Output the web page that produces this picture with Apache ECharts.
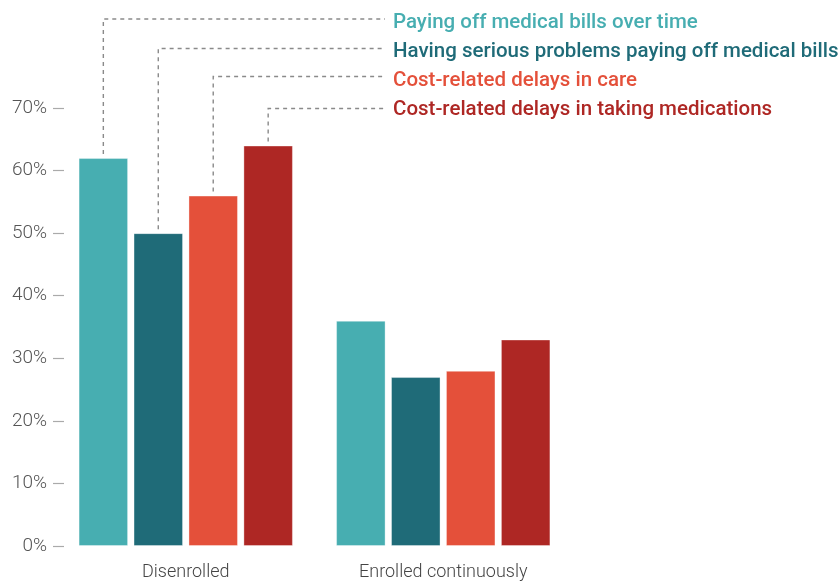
<!DOCTYPE html>
<html>
<head>
<meta charset="utf-8">
<script src="https://cdn.jsdelivr.net/npm/echarts@6/dist/echarts.min.js"></script>
<style>
  html, body { margin: 0; padding: 0; background: #fff; }
  #chart { width: 840px; height: 581px; }
</style>
</head>
<body>
<div id="chart"></div>
<script>
// Enrollment groups along the x axis
var categories = ['Disenrolled', 'Enrolled continuously'];

// Share of respondents reporting each problem (%)
var seriesNames = [
  'Paying off medical bills over time',
  'Having serious problems paying off medical bills',
  'Cost-related delays in care',
  'Cost-related delays in taking medications'
];
var payingOverTime   = [62, 36];
var seriousProblems  = [50, 27];
var delaysInCare     = [56, 28];
var delaysMedication = [64, 33];

var yTicks = [0, 10, 20, 30, 40, 50, 60, 70];

var colors = ['#47aeb1', '#1f6b78', '#e4503a', '#ae2724'];
var values = [payingOverTime, seriousProblems, delaysInCare, delaysMedication];

var chart = echarts.init(document.getElementById('chart'), null, { renderer: 'canvas' });

var FONT = 'Roboto, "Noto Sans", sans-serif';

var series = seriesNames.map(function (name, i) {
  return {
    name: name,
    type: 'bar',
    data: values[i],
    barWidth: 49.5,
    barGap: '11%',
    itemStyle: {
      color: colors[i],
      borderColor: 'rgba(255,255,255,0.35)',
      borderWidth: 1
    },
    emphasis: { disabled: true },
    animation: false
  };
});

chart.setOption({
  animation: false,
  grid: { left: 57, right: 268, top: 108, bottom: 32 },
  xAxis: {
    type: 'category',
    data: categories,
    axisLine: { show: false },
    axisTick: { show: false },
    axisLabel: {
      color: '#444',
      fontFamily: FONT,
      fontWeight: 300,
      fontSize: 18,
      margin: 17
    }
  },
  yAxis: {
    type: 'value',
    min: yTicks[0],
    max: yTicks[yTicks.length - 1],
    interval: 10,
    offset: -7,
    splitLine: { show: false },
    axisLine: { show: false },
    axisTick: { show: true, length: 11, lineStyle: { color: '#aaa', width: 1.2 } },
    axisLabel: {
      color: '#555',
      fontFamily: FONT,
      fontWeight: 300,
      fontSize: 19,
      margin: 17,
      formatter: '{value}%'
    }
  },
  series: series
});

// Series names with dashed leader lines running to the first group's bars
var labelX = 393;
var labelY = [23, 52, 81, 110];
var lineY = [19, 48.5, 76.5, 108.5];
var graphics = [];
seriesNames.forEach(function (name, i) {
  graphics.push({
    type: 'text',
    x: labelX,
    y: labelY[i],
    style: {
      text: name,
      fill: colors[i],
      font: '500 20.5px ' + FONT,
      textVerticalAlign: 'middle',
      verticalAlign: 'middle'
    },
    silent: true
  });
  var layout = chart.getModel().getSeriesByIndex(i).getData().getItemLayout(0);
  var cx = layout.x + layout.width / 2;
  var top = Math.min(layout.y, layout.y + layout.height);
  graphics.push({
    type: 'polyline',
    shape: { points: [[cx, top - 4], [cx, lineY[i]], [labelX - 8, lineY[i]]] },
    style: { stroke: '#8a8a8a', lineWidth: 1.4, lineDash: [4, 4], fill: null },
    silent: true
  });
});
chart.setOption({ graphic: graphics });
</script>
</body>
</html>
